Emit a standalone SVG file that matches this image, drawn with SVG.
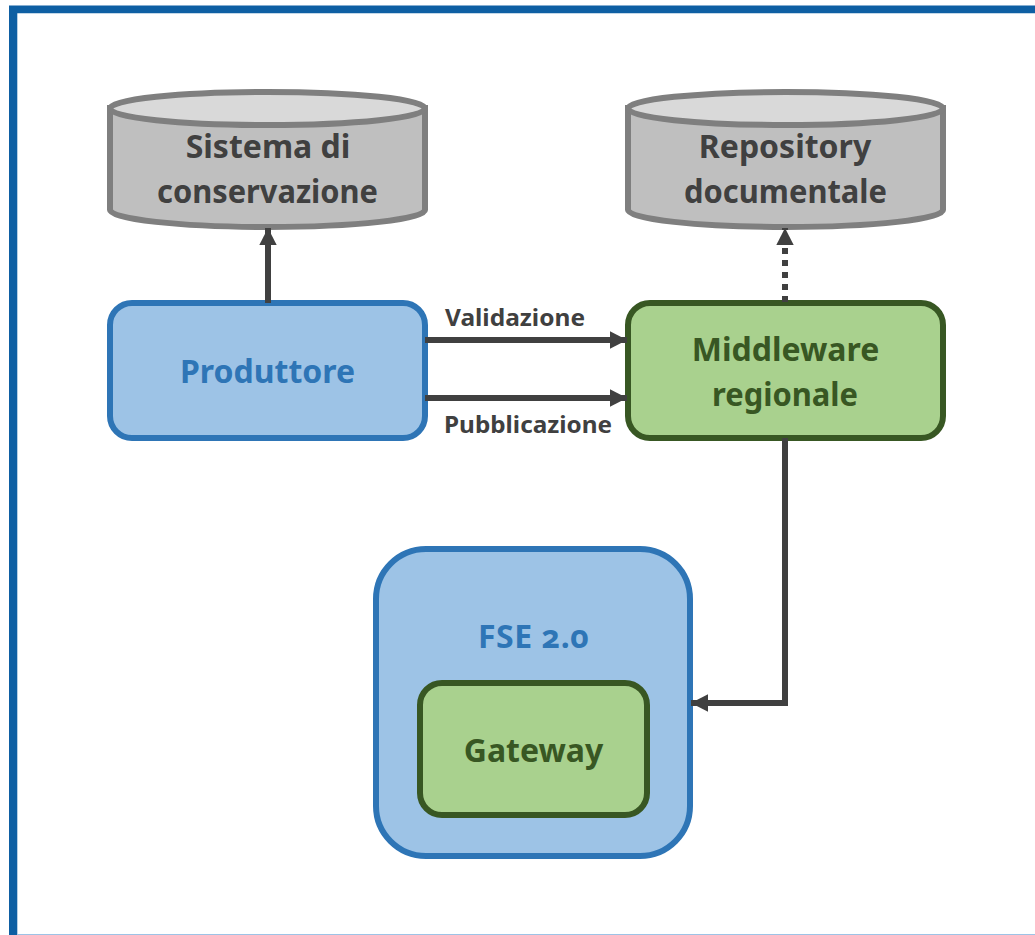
<svg xmlns="http://www.w3.org/2000/svg" width="1035" height="935" viewBox="0 0 1035 935">
<defs>
<marker id="arrow" markerUnits="userSpaceOnUse" markerWidth="18" markerHeight="18" refX="17" refY="9" orient="auto"><path d="M0 0.3L17 9L0 17.7Z" fill="#404040"/></marker>
</defs>
<style>
text{font-family:"Noto Sans","Liberation Sans",sans-serif;font-weight:700;text-anchor:middle}
.cyl{fill:#bfbfbf;stroke:#7f7f7f;stroke-width:6}
.top{fill:#d9d9d9;stroke:#7f7f7f;stroke-width:6}
.blue{fill:#9dc3e6;stroke:#2e75b6;stroke-width:6}
.green{fill:#a9d18e;stroke:#385723;stroke-width:6}
.g{fill:#404040;font-size:32px}
.b{fill:#2e75b6;font-size:32px}
.d{fill:#385723;font-size:32px}
.l{fill:#404040;font-size:24px}
.c{fill:none;stroke:#404040;stroke-width:6;marker-end:url(#arrow)}
.o{font-variant-numeric:oldstyle-nums}
</style>
<rect width="1035" height="935" fill="#fff"/>
<path d="M9 935V5.5H1035V13.3H17.3V935Z" fill="#0e5fa3"/>
<rect x="17" y="934" width="1018" height="1" fill="#9dc3e6"/>
<g id="sistema">
<path class="cyl" d="M110 108V210C110 219 180 227 268 227S425 219 425 210V108Z"/>
<ellipse class="top" cx="267.500" cy="108.500" rx="157.500" ry="16.500"/>
<text class="g" x="268" y="158">Sistema di</text>
<text class="g" x="267.500" y="203" textLength="221" lengthAdjust="spacingAndGlyphs">conservazione</text>
</g>
<g id="repository">
<path class="cyl" d="M628 108V210C628 219 698 227 786 227S943 219 943 210V108Z"/>
<ellipse class="top" cx="785.500" cy="108.500" rx="157.500" ry="16.500"/>
<text class="g" x="785" y="158">Repository</text>
<text class="g" x="785.500" y="203" textLength="203" lengthAdjust="spacingAndGlyphs">documentale</text>
</g>
<g id="produttore">
<rect class="blue" x="110" y="303" width="315" height="135" rx="22"/>
<text class="b" x="267.500" y="383">Produttore</text>
</g>
<g id="middleware">
<rect class="green" x="628" y="303" width="315" height="135" rx="22"/>
<text class="d" x="785.500" y="361">Middleware</text>
<text class="d" x="785" y="406" textLength="146" lengthAdjust="spacingAndGlyphs">regionale</text>
</g>
<g id="fse">
<rect class="blue" x="376" y="549" width="314" height="307" rx="50"/>
<text class="b" x="533.500" y="648" textLength="111" lengthAdjust="spacing">FSE <tspan class="o">2.0</tspan></text>
</g>
<g id="gateway">
<rect class="green" x="420" y="683" width="227" height="132" rx="22"/>
<text class="d" x="533.500" y="762">Gateway</text>
</g>
<g id="connectors">
<path class="c" d="M268 303V228"/>
<path class="c" d="M785 302V228" stroke-dasharray="6 6"/>
<path class="c" d="M425 340H627"/>
<path class="c" d="M425 398H627"/>
<path class="c" d="M785 438V703H691"/>
</g>
<g id="labels">
<text class="l" x="515" y="326" textLength="140" lengthAdjust="spacingAndGlyphs">Validazione</text>
<text class="l" x="528" y="433" textLength="168" lengthAdjust="spacingAndGlyphs">Pubblicazione</text>
</g>
</svg>
